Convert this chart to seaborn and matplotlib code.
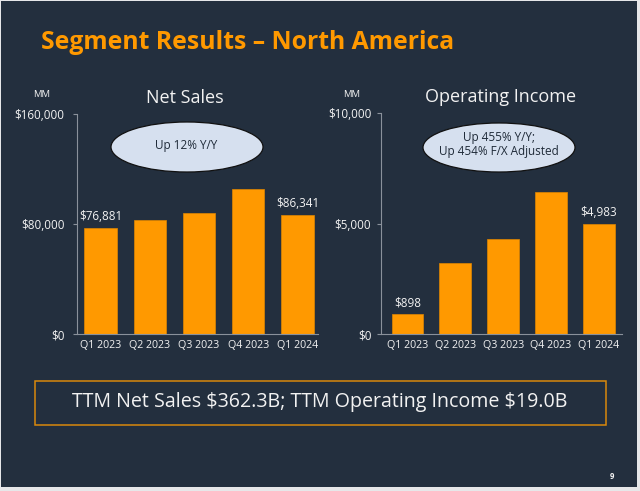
import numpy as np
import pandas as pd
import matplotlib
matplotlib.use("Agg")
import matplotlib.pyplot as plt
import seaborn as sns
from matplotlib.patches import Ellipse, Rectangle

# ---------------- data ----------------
quarters = ["Q1 2023", "Q2 2023", "Q3 2023", "Q4 2023", "Q1 2024"]
net_sales = [76881, 82546, 87887, 105514, 86341]
op_income = [898, 3211, 4307, 6461, 4983]
ns_ticks = [0, 80000, 160000]
ns_tick_labels = ["$0", "$80,000", "$160,000"]
oi_ticks = [0, 5000, 10000]
oi_tick_labels = ["$0", "$5,000", "$10,000"]
labeled_idx = [0, 4]
ns_labels = ["$76,881", "", "", "", "$86,341"]
oi_labels = ["$898", "", "", "", "$4,983"]
title = "Segment Results \u2013 North America"
ns_title = "Net Sales"
oi_title = "Operating Income"
ns_note = "Up 12% Y/Y"
oi_note = "Up 455% Y/Y;\nUp 454% F/X Adjusted"
footer = "TTM Net Sales $362.3B; TTM Operating Income $19.0B"
page = "9"

# ---------------- style ----------------
BG = "#232F3E"
ORANGE = "#FF9900"
SPINE = "#8A919B"
TXT = "#F2F2F2"

sns.set_theme(style="dark")
plt.rcParams["font.family"] = ["Open Sans", "DejaVu Sans"]

W, H = 640, 491
fig = plt.figure(figsize=(W / 100, H / 100), dpi=100)
fig.patch.set_facecolor("#E6E7E9")

def px_rect(x0, y0, x1, y1):
    return [x0 / W, 1 - y1 / H, (x1 - x0) / W, (y1 - y0) / H]

# background overlay
bg = fig.add_axes([0, 0, 1, 1], zorder=0)
bg.set_xlim(0, W)
bg.set_ylim(H, 0)
bg.axis("off")
bg.add_patch(Rectangle((1, 1), 636, 486, facecolor=BG, edgecolor="none"))
bg.add_patch(Rectangle((35, 381), 571, 44, facecolor="none", edgecolor="#D9890C", lw=1.1))

t_title = bg.text(41, 49.3, title, color=ORANGE, fontsize=18, fontweight="bold",
                  ha="left", va="baseline", parse_math=False)
t_footer = bg.text(320, 407.3, footer, color=TXT, fontsize=13.5, ha="center",
                   va="baseline", parse_math=False)
bg.text(185, 102.7, ns_title, color=TXT, fontsize=13, ha="center", va="baseline")
bg.text(501, 101.7, oi_title, color=TXT, fontsize=13, ha="center", va="baseline")
bg.text(41.5, 96.7, "MM", color=TXT, fontsize=6.8, ha="center", va="baseline")
bg.text(352, 96.7, "MM", color=TXT, fontsize=6.8, ha="center", va="baseline")
bg.text(612, 479, page, color=TXT, fontsize=5.5, fontweight="bold", ha="center", va="baseline")

# ---------------- charts ----------------
df_ns = pd.DataFrame({"quarter": quarters, "value": net_sales})
df_oi = pd.DataFrame({"quarter": quarters, "value": op_income})

def make_chart(rect, df, ticks, tick_labels, labels, xlim, ypad):
    ax = fig.add_axes(rect, zorder=1)
    ax.set_facecolor("none")
    sns.barplot(data=df, x="quarter", y="value", color=ORANGE, saturation=1,
                width=0.66, ax=ax, edgecolor="#E08600", linewidth=0.5)
    ax.set_xlim(*xlim)
    ax.set_ylim(ticks[0], ticks[-1])
    ax.set_yticks(ticks)
    ax.set_yticklabels(tick_labels)
    ax.set_xlabel("")
    ax.set_ylabel("")
    ax.grid(False)
    for s in ["top", "right"]:
        ax.spines[s].set_visible(False)
    for s in ["left", "bottom"]:
        ax.spines[s].set_visible(True)
        ax.spines[s].set_color(SPINE)
        ax.spines[s].set_linewidth(0.8)
    ax.tick_params(axis="y", colors=SPINE, length=3, width=0.8, pad=ypad,
                   labelcolor=TXT, labelsize=8.4, left=True)
    ax.tick_params(axis="x", length=0, pad=4, labelcolor=TXT, labelsize=7.7)
    for i in labeled_idx:
        ax.annotate(labels[i], xy=(i, df["value"].iloc[i]), xytext=(0, 3.5),
                    textcoords="offset points", ha="center", va="bottom",
                    color=TXT, fontsize=8.4)
    return ax

ax1 = make_chart(px_rect(77, 114, 318, 334), df_ns, ns_ticks, ns_tick_labels,
                 ns_labels, (-0.48, 4.42), 6)
ax2 = make_chart(px_rect(381, 113.5, 622, 334.3), df_oi, oi_ticks, oi_tick_labels,
                 oi_labels, (-0.55, 4.48), 4)

# ---------------- callouts ----------------
top = fig.add_axes([0, 0, 1, 1], zorder=2)
top.set_xlim(0, W)
top.set_ylim(H, 0)
top.axis("off")
top.patch.set_alpha(0)
top.add_patch(Ellipse((187, 147), 152, 50, facecolor="#D6E0EF", edgecolor="#111111", lw=0.9))
top.add_patch(Ellipse((499, 147.5), 152, 49, facecolor="#D6E0EF", edgecolor="#111111", lw=0.9))
top.text(186, 145, ns_note, color="#1F2A38", fontsize=8.5, ha="center", va="center")
top.text(499, 144.5, oi_note, color="#1F2A38", fontsize=8.5, ha="center", va="center",
         linespacing=1.15)

# fit wide texts to measured widths
fig.canvas.draw()
r = fig.canvas.get_renderer()
for t, target in [(t_title, 415), (t_footer, 496)]:
    w = t.get_window_extent(r).width
    t.set_fontsize(t.get_fontsize() * target / w)

fig.savefig("out.png", dpi=100, facecolor=fig.get_facecolor())
